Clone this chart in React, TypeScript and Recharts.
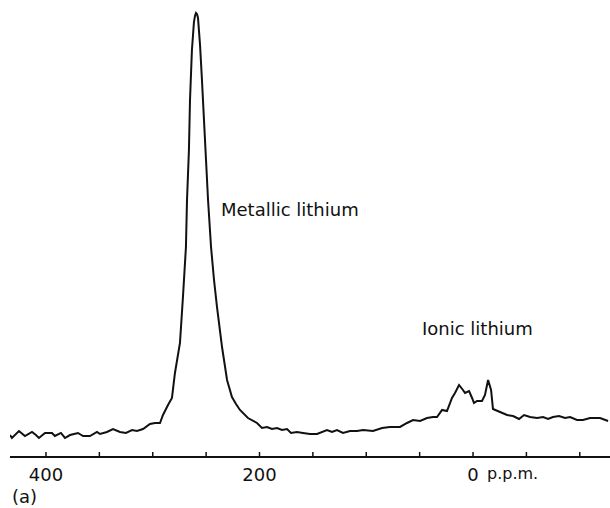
import { LineChart, Line, XAxis, YAxis, Customized } from "recharts"

// chemical shift (p.p.m.) of each traced point, high field on the right
const shiftPpm = [
  433.7, 431.9, 425.3, 419.7, 413.1, 409.4, 406.6, 400.9, 394.4, 391.6,
  386.0, 382.2, 377.5, 370.0, 365.3, 358.8, 352.2, 349.4, 342.9, 337.2,
  330.7, 325.1, 319.4, 314.8, 309.1, 302.6, 297.9, 293.2, 290.4, 285.7,
  282.0, 279.2, 274.5, 271.7, 268.9, 267.9, 266.1, 265.1, 263.3, 261.4,
  260.4, 259.5, 258.5, 257.6, 255.7, 253.9, 252.0, 250.1, 248.2, 245.4, 242.6, 239.8,
  235.1, 230.4, 225.8, 222.0, 218.3, 210.8, 202.3, 197.7, 193.0, 188.3,
  183.6, 178.9, 174.2, 170.5, 164.9, 159.3, 152.7, 146.1, 136.8, 132.1,
  127.4, 121.8, 115.2, 108.7, 103.0, 93.7, 85.2, 77.8, 68.4, 61.8,
  56.2, 49.6, 43.1, 37.5, 33.7, 29.0, 24.4, 19.7, 16.9, 13.1,
  9.4, 7.5, 3.7, 0.9, -0.9, -3.7, -8.4, -11.2, -14.1, -16.9,
  -18.7, -25.3, -31.9, -37.5, -43.1, -47.8, -53.4, -60.0, -65.6, -70.3,
  -74.9, -80.6, -86.2, -90.9, -97.4, -103.0, -109.6, -119.0, -126.5,
]

// signal intensity, arbitrary units (metallic peak = 100)
const intensity = [
  4.95, 4.28, 5.86, 4.73, 5.63, 4.95, 4.28, 5.41, 5.41, 4.73,
  5.41, 4.28, 4.95, 5.41, 4.73, 4.73, 5.63, 5.18, 5.63, 6.31,
  5.63, 5.41, 6.08, 5.86, 6.31, 7.43, 7.66, 7.66, 9.46, 11.71,
  13.29, 18.92, 25.68, 36.04, 47.3, 57.88, 69.14, 80.41, 91.67, 97.97,
  99.4, 100, 99.7, 98.87, 92.79, 84.91, 75.9, 66.89, 57.88, 47.3, 39.86, 33.78,
  24.77, 17.34, 13.51, 11.94, 10.59, 8.78, 7.66, 6.53, 6.76, 6.31,
  6.53, 6.08, 6.31, 5.41, 5.63, 5.41, 5.18, 5.18, 6.08, 5.63,
  6.08, 5.41, 5.86, 5.86, 6.08, 5.86, 6.53, 6.76, 6.76, 7.66,
  8.33, 8.11, 8.78, 9.01, 9.01, 10.59, 10.36, 13.29, 14.41, 16.22,
  15.09, 14.41, 14.86, 13.29, 12.16, 12.61, 12.61, 13.96, 17.34, 15.09,
  10.81, 10.14, 9.46, 9.23, 8.56, 9.46, 9.01, 8.78, 9.01, 8.56,
  9.01, 9.23, 8.78, 9.01, 8.33, 8.33, 8.78, 8.78, 8.11,
]

const axisTicks = [400, 350, 300, 250, 200, 150, 100, 50, 0, -50, -100]
const labelledTicks = [400, 200, 0]

const spectrum = shiftPpm.map((ppm, i) => ({ ppm, value: intensity[i] }))

const FONT = "DejaVu Sans"

function ShiftTick(props: any) {
  const { x, y, payload } = props
  const v = payload.value
  return (
    <g>
      <line x1={x} y1={y} x2={x} y2={y - 5} stroke="#111" strokeWidth={1.5} />
      {labelledTicks.includes(v) && (
        <text x={x} y={y + 24} textAnchor="middle" fontFamily={FONT} fontSize={18} fill="#111">
          {v}
        </text>
      )}
      {v === 0 && (
        <text x={x + 14} y={y + 22} textAnchor="start" fontFamily={FONT} fontSize={16} fill="#111">
          p.p.m.
        </text>
      )}
    </g>
  )
}

function Annotations() {
  return (
    <g fontFamily={FONT} fill="#111">
      <text x={221} y={216} fontSize={18}>Metallic lithium</text>
      <text x={422} y={335} fontSize={18}>Ionic lithium</text>
      <text x={12} y={503} fontSize={18}>(a)</text>
    </g>
  )
}

export default function App() {
  return (
    <div style={{ position: "absolute", left: 0, top: 0, background: "#fff" }}>
      <LineChart
        width={610}
        height={508}
        data={spectrum}
        margin={{ top: 13, right: 0, bottom: 21, left: 10 }}
      >
        <XAxis
          dataKey="ppm"
          type="number"
          domain={[-128.3, 433.7]}
          reversed
          ticks={axisTicks}
          interval={0}
          height={30}
          tickLine={false}
          tickSize={0}
          tickMargin={0}
          axisLine={{ stroke: "#111", strokeWidth: 2 }}
          tick={<ShiftTick />}
          allowDataOverflow
        />
        <YAxis hide domain={[0, 100]} />
        <Line
          type="linear"
          dataKey="value"
          stroke="#111"
          strokeWidth={2}
          dot={false}
          isAnimationActive={false}
        />
        <Customized component={<Annotations />} />
      </LineChart>
    </div>
  )
}
